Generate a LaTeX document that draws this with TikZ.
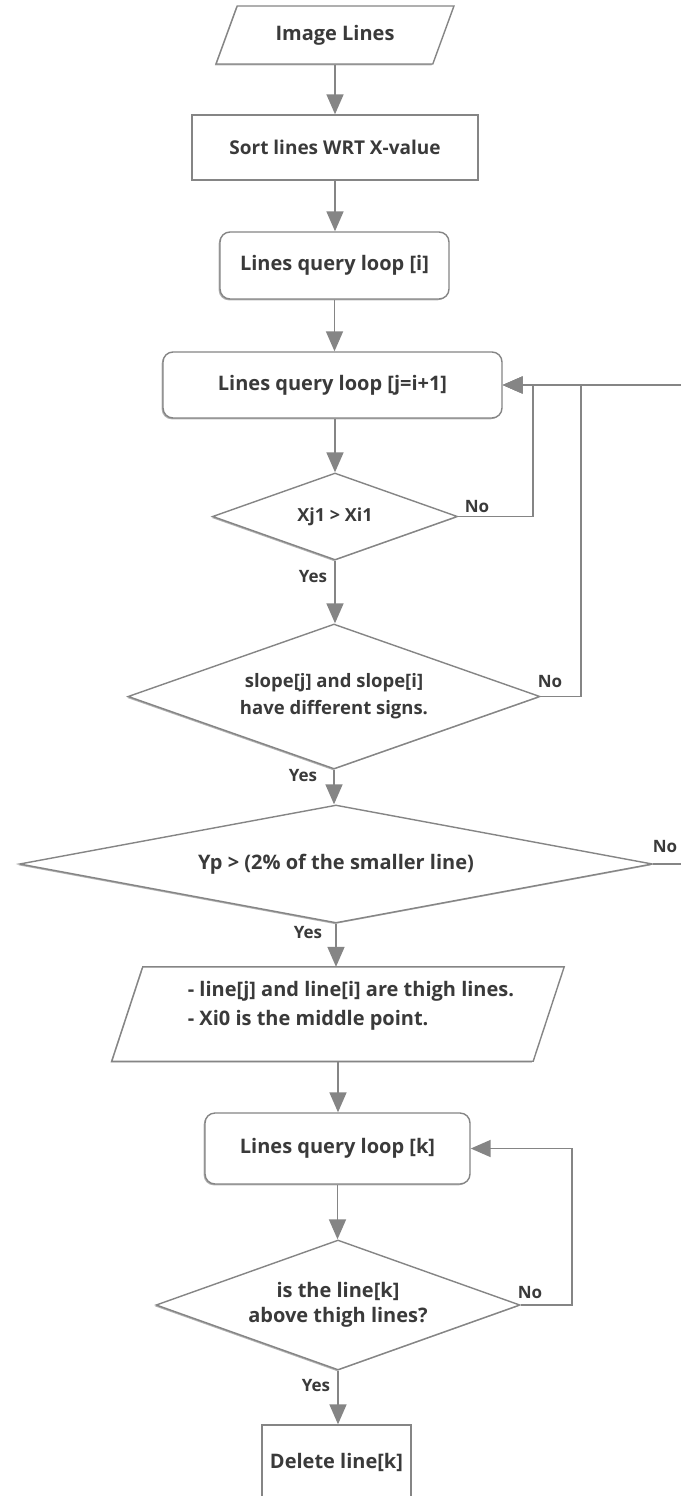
\documentclass[tikz,border=0pt]{standalone}
\usepackage{fontspec}
\setmainfont{Open Sans}
\usetikzlibrary{shapes.geometric,arrows.meta,shadows,calc}
\definecolor{edge}{HTML}{858585}
\definecolor{ink}{HTML}{3A3A3A}
\newcommand{\fs}[2]{\bfseries\fontsize{#1}{#2}\selectfont}
\tikzset{
  outline/.style={draw=edge, line width=1.4pt, fill=white,
    drop shadow={shadow xshift=-1.3pt, shadow yshift=-1.3pt, opacity=0.3, fill=black}},
  base/.style={outline, text=ink, font=\fs{20}{27}, inner sep=0pt},
  procbox/.style={base, rectangle},
  loopbox/.style={base, rectangle, rounded corners=10pt},
  iobox/.style={base, trapezium, trapezium stretches=true, inner sep=2pt,
    trapezium left angle=#1, trapezium right angle=180-#1},
  decision/.style={base, diamond, align=center, aspect=#1},
  conn/.style={draw=edge, line width=1.7pt, -{Triangle[length=20pt,width=17pt]}},
  tag/.style={text=ink, font=\fs{17}{20}, inner sep=0pt},
  notes/.style={text=ink, font=\fs{20}{29}, inner sep=0pt, align=left},
}
\begin{document}
\begin{tikzpicture}[x=1pt,y=-1pt]
\useasboundingbox (0,0) rectangle (680,1496);
\fill[white] (0,0) rectangle (680,1496);

% main column
\node[iobox=61, minimum width=238pt, minimum height=58pt] (img) at (335,35) {Image Lines};
\node[procbox, minimum width=286pt, minimum height=65pt, font=\fs{19}{22}] (sort) at (335,147.5) {Sort lines WRT X-value};
\node[loopbox, minimum width=229pt, minimum height=67pt] (li) at (334.5,265.5) {Lines query loop [i]};
\node[loopbox, minimum width=339pt, minimum height=66pt] (lj) at (332.5,385) {Lines query loop [j=i+1]};
\node[decision=2.8, minimum width=245pt, minimum height=87pt, font=\fs{18}{22}] (d1) at (335,516.5) {Xj1 > Xi1};
\node[decision=2.84, minimum width=412pt, minimum height=145pt, font=\fs{18.5}{27}] (d2) at (334,696.5) {slope[j] and slope[i]\\have different signs.};
\node[decision=5.36, minimum width=633pt, minimum height=118pt] (d3) at (336,864) {Yp > (2\% of the smaller line)};

% slanted data box holding the two notes
\node[inner sep=0pt, minimum width=421pt, minimum height=94pt] (p2) at (338,1014) {};
\path[outline] ($(p2.south west)+(-15.5,0)$) -- ($(p2.north west)+(15.5,0)$)
  -- ($(p2.north east)+(15.5,0)$) -- ($(p2.south east)+(-15.5,0)$) -- cycle;
\node[notes] (p2t) at (351,1006) {- line[j] and line[i] are thigh lines.\\- Xi0 is the middle point.};

\node[loopbox, minimum width=265pt, minimum height=71pt] (lk) at (337.5,1148.5) {Lines query loop [k]};
\node[decision=2.8, minimum width=364pt, minimum height=130pt, font=\fs{20}{25}] (d4) at (338,1305) {is the line[k]\\above thigh lines?};
\node[procbox, minimum width=149pt, minimum height=75pt] (del) at (336.5,1462.5) {Delete line[k]};

% downward flow
\draw[conn] (img.south) -- (img.south |- sort.north);
\draw[conn] (sort.south) -- (sort.south |- li.north);
\draw[conn] (li.south) -- (li.south |- lj.north);
\draw[conn] (d1.north |- lj.south) -- (d1.north);
\draw[conn] (d1.south) -- (d1.south |- d2.north);
\draw[conn] (d2.south) -- (d2.south |- d3.north);
\draw[conn] (d3.south) -- (d3.south |- p2.north);
\draw[conn] (p2.south) -- (p2.south |- lk.north);
\draw[conn] (lk.south) -- (lk.south |- d4.north);
\draw[conn] (d4.south) -- (d4.south |- del.north);

% "No" branches looping back
\draw[conn] (d1.east) -- ++(75,0) |- (lj.east);
\draw[conn] (d2.east) -- ++(40,0) |- (lj.east);
\draw[conn] (d3.east) -- ++(30,0) |- (lj.east);
\draw[conn] (d4.east) -- ++(51,0) |- (lk.east);

% branch labels
\node[tag] (d1no) at (477,507) {No};
\node[tag] (d1yes) at (313,577) {Yes};
\node[tag] (d2no) at (550,682) {No};
\node[tag] (d2yes) at (303,776) {Yes};
\node[tag] (d3no) at (665,847) {No};
\node[tag] (d3yes) at (308,933) {Yes};
\node[tag] (d4no) at (530,1292) {No};
\node[tag] (d4yes) at (316,1385) {Yes};
\end{tikzpicture}
\end{document}
